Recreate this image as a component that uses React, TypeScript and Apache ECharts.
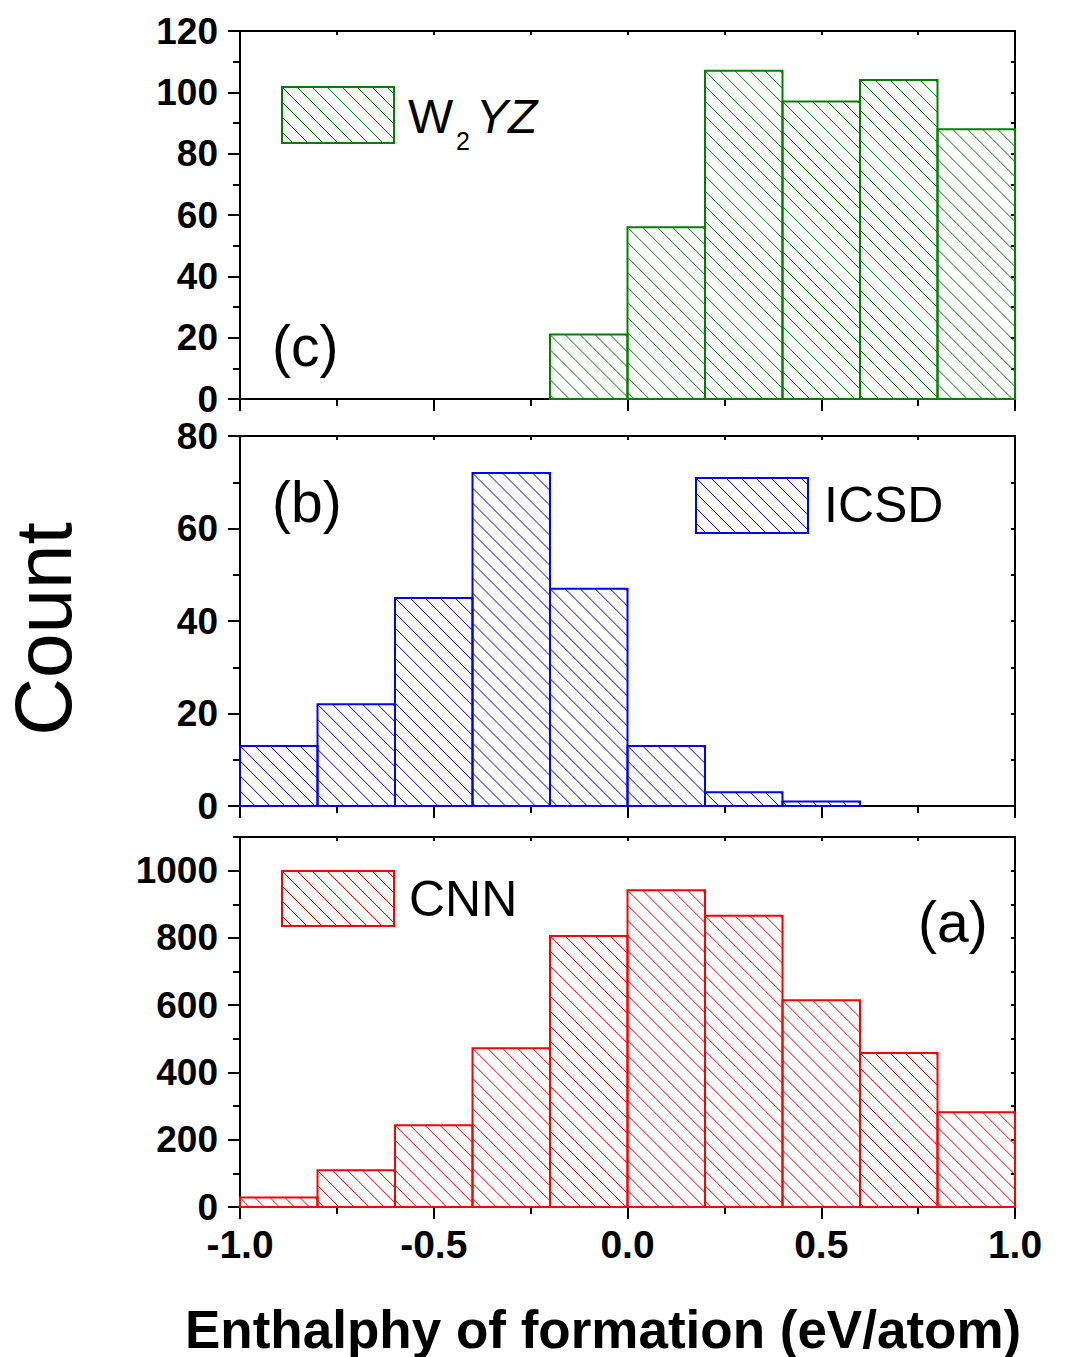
import React, { useEffect, useRef } from "react";
import * as echarts from "echarts";

// ---- data ----
const binEdges = [-1.0, -0.8, -0.6, -0.4, -0.2, 0.0, 0.2, 0.4, 0.6, 0.8, 1.0];
const cnnCounts = [28, 109, 243, 472, 806, 942, 866, 615, 458, 282];
const icsdCounts = [13, 22, 45, 72, 47, 13, 3, 1, 0, 0];
const w2yzCounts = [0, 0, 0, 0, 21, 56, 107, 97, 104, 88];
const xTickLabels = [-1.0, -0.5, 0.0, 0.5, 1.0];
const cnnYTicks = [0, 200, 400, 600, 800, 1000];
const icsdYTicks = [0, 20, 40, 60, 80];
const w2yzYTicks = [0, 20, 40, 60, 80, 100, 120];

const FONT = "'Liberation Sans', Arial, Helvetica, sans-serif";
const GREEN = "#008000";
const BLUE = "#0000ff";
const RED = "#ff0000";
const HATCH_STEP = 15;

function hatchLines(x0: number, y0: number, x1: number, y1: number, color: string) {
  const out: any[] = [];
  const c0 = y0 - x0;
  const kMin = Math.ceil((y0 - x1 - c0) / HATCH_STEP);
  const kMax = Math.floor((y1 - x0 - c0) / HATCH_STEP);
  for (let k = kMin; k <= kMax; k++) {
    const c = c0 + k * HATCH_STEP;
    const xs = Math.max(x0, y0 - c);
    const xe = Math.min(x1, y1 - c);
    if (xe - xs > 0.5) {
      out.push({
        type: "line",
        silent: true,
        shape: { x1: xs, y1: xs + c, x2: xe, y2: xe + c },
        style: { stroke: color, lineWidth: 1 },
      });
    }
  }
  return out;
}

function histData(counts: number[]) {
  const d: number[][] = [];
  counts.forEach((c, i) => {
    if (c > 0) d.push([binEdges[i], binEdges[i + 1], c]);
  });
  return d;
}

function histSeries(idx: number, counts: number[], color: string) {
  return {
    type: "custom",
    xAxisIndex: idx * 2,
    yAxisIndex: idx * 3,
    data: histData(counts),
    encode: { x: [0, 1], y: 2 },
    renderItem: (params: any, api: any) => {
      const p0 = api.coord([api.value(0), api.value(2)]);
      const p1 = api.coord([api.value(1), 0]);
      const x0 = p0[0], y0 = p0[1], x1 = p1[0], y1 = p1[1];
      return {
        type: "group",
        children: [
          ...hatchLines(x0, y0, x1, y1, color),
          {
            type: "rect",
            shape: { x: x0, y: y0, width: x1 - x0, height: y1 - y0 },
            style: { fill: "none", stroke: color, lineWidth: 2 },
          },
        ],
      };
    },
  };
}

function legendBox(x: number, y: number, w: number, h: number, color: string) {
  return {
    type: "group",
    children: [
      ...hatchLines(x, y, x + w, y + h, color),
      {
        type: "rect",
        shape: { x, y, width: w, height: h },
        style: { fill: "none", stroke: color, lineWidth: 2 },
      },
    ],
  };
}

const axisLine = { show: true, onZero: false, lineStyle: { color: "#000", width: 2 } };

export default function App() {
  const ref = useRef<HTMLDivElement>(null);
  useEffect(() => {
    document.body.style.margin = "0";
    if (!ref.current) return;
    const chart = echarts.init(ref.current, undefined, { renderer: "svg" });

    const grids = [
      { left: 240, width: 775, top: 31, height: 368 },
      { left: 240, width: 775, top: 436, height: 370 },
      { left: 240, width: 775, top: 837, height: 370 },
    ];

    const xAxes: any[] = [];
    const yAxes: any[] = [];
    const panels = [
      { max: 120, interval: 20, ticks: w2yzYTicks },
      { max: 80, interval: 20, ticks: icsdYTicks },
      { max: 1100, interval: 200, ticks: cnnYTicks },
    ];
    panels.forEach((p, g) => {
      xAxes.push({
        type: "value",
        gridIndex: g,
        position: "bottom",
        min: -1,
        max: 1,
        interval: 0.5,
        axisLine,
        axisTick: {
          show: true,
          inside: false,
          length: 12,
          lineStyle: { width: 2, color: "#000" },
          customValues: xTickLabels,
        },
        minorTick: { show: true, splitNumber: 2, length: 7, lineStyle: { width: 2, color: "#000" } },
        splitLine: { show: false },
        minorSplitLine: { show: false },
        axisLabel: {
          show: g === 2,
          margin: 18,
          fontSize: 39,
          fontWeight: "bold",
          fontFamily: FONT,
          color: "#000",
          customValues: xTickLabels,
          formatter: (v: number) => v.toFixed(1),
        },
      });
      xAxes.push({
        type: "value",
        gridIndex: g,
        position: "top",
        min: -1,
        max: 1,
        interval: 0.25,
        axisLine,
        axisTick: { show: true, inside: true, length: 4, lineStyle: { width: 2, color: "#000" } },
        splitLine: { show: false },
        axisLabel: { show: false },
      });
      // left major axis
      yAxes.push({
        type: "value",
        gridIndex: g,
        position: "left",
        min: 0,
        max: p.max,
        interval: p.interval,
        axisLine,
        axisTick: {
          show: true,
          inside: false,
          length: 12,
          lineStyle: { width: 2, color: "#000" },
          customValues: p.ticks,
        },
        splitLine: { show: false },
        axisLabel: {
          show: true,
          margin: 22,
          fontSize: 37,
          lineHeight: 34,
          fontWeight: "bold",
          fontFamily: FONT,
          color: "#000",
          customValues: p.ticks,
          formatter: (v: number) => String(v),
        },
      });
      // left minor ticks
      yAxes.push({
        type: "value",
        gridIndex: g,
        position: "left",
        min: 0,
        max: p.max,
        interval: p.interval / 2,
        axisLine: { show: false, onZero: false },
        axisTick: { show: true, inside: false, length: 7, lineStyle: { width: 2, color: "#000" } },
        splitLine: { show: false },
        axisLabel: { show: false },
      });
      // right frame
      yAxes.push({
        type: "value",
        gridIndex: g,
        position: "right",
        min: 0,
        max: p.max,
        interval: p.interval / 2,
        axisLine,
        axisTick: { show: true, inside: true, length: 4, lineStyle: { width: 2, color: "#000" } },
        splitLine: { show: false },
        axisLabel: { show: false },
      });
    });

    const textStyle = (text: string, size: number, extra: any = {}) => ({
      text,
      fontSize: size,
      fontFamily: FONT,
      fill: "#000",
      ...extra,
    });

    chart.setOption({
      animation: false,
      backgroundColor: "#fff",
      grid: grids,
      xAxis: xAxes,
      yAxis: yAxes,
      series: [
        histSeries(0, w2yzCounts, GREEN),
        histSeries(1, icsdCounts, BLUE),
        histSeries(2, cnnCounts, RED),
      ],
      graphic: {
        elements: [
          legendBox(282, 87, 112, 56, GREEN),
          legendBox(696, 478, 112, 55, BLUE),
          legendBox(282, 871, 112, 55, RED),
          { type: "text", x: 408, y: 116, style: textStyle("W", 48, { verticalAlign: "middle" }) },
          { type: "text", x: 456, y: 141, style: textStyle("2", 25, { verticalAlign: "middle" }) },
          {
            type: "text",
            x: 476,
            y: 116,
            style: textStyle("YZ", 48, { verticalAlign: "middle", fontStyle: "italic" }),
          },
          { type: "text", x: 824, y: 505, style: textStyle("ICSD", 50, { verticalAlign: "middle" }) },
          { type: "text", x: 409, y: 899, style: textStyle("CNN", 50, { verticalAlign: "middle" }) },
          { type: "text", x: 272, y: 346, style: textStyle("(c)", 57, { verticalAlign: "middle" }) },
          { type: "text", x: 272, y: 502, style: textStyle("(b)", 57, { verticalAlign: "middle" }) },
          { type: "text", x: 918, y: 922, style: textStyle("(a)", 57, { verticalAlign: "middle" }) },
          {
            type: "text",
            x: 43,
            y: 629,
            rotation: Math.PI / 2,
            style: textStyle("Count", 80, { align: "center", verticalAlign: "middle" }),
          },
          {
            type: "text",
            x: 185,
            y: 1329,
            style: textStyle("Enthalphy of formation (eV/atom)", 53, {
              verticalAlign: "middle",
              fontWeight: "bold",
            }),
          },
        ],
      },
    });
    return () => chart.dispose();
  }, []);
  return <div ref={ref} style={{ width: 1068, height: 1357 }} />;
}
